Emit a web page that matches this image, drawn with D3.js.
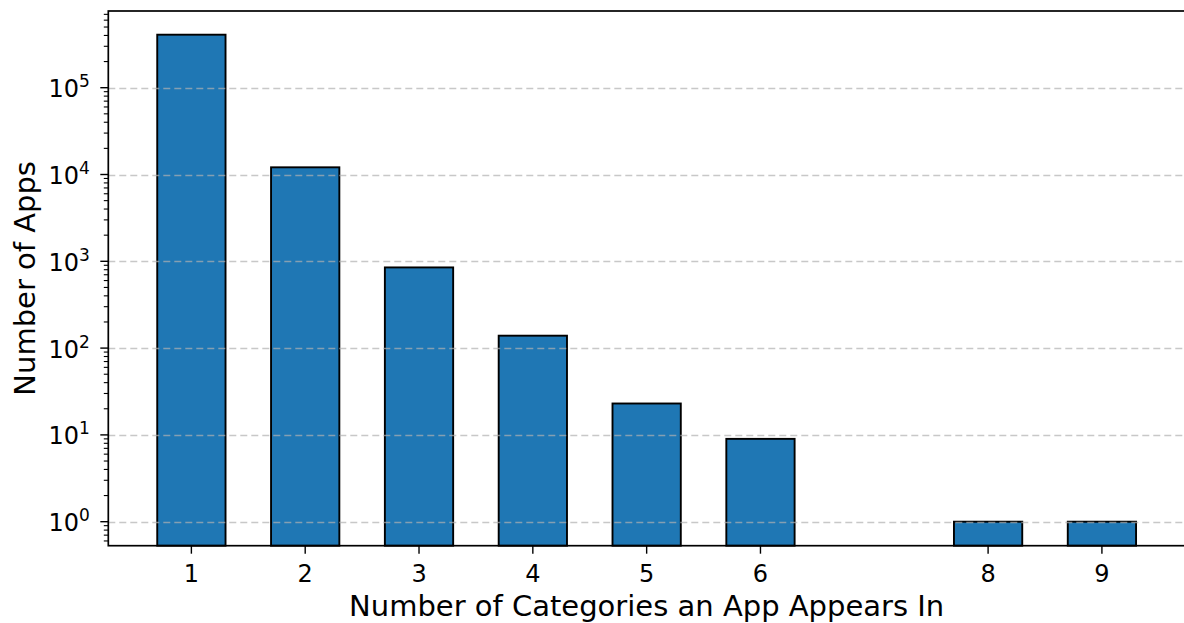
<!DOCTYPE html>
<html>
<head>
<meta charset="utf-8">
<script src="https://cdn.jsdelivr.net/npm/d3@7"></script>
<style>
  html, body { margin: 0; padding: 0; background: #fff; }
  svg { display: block; }
  text { font-family: "DejaVu Sans", sans-serif; fill: #000; }
</style>
</head>
<body>
<svg id="chart" width="1184" height="623"></svg>
<script>
// Number of categories each app is listed in, and how many apps fall in each bucket
const categories = [1, 2, 3, 4, 5, 6, 8, 9];
const appCounts = [408000, 12100, 850, 139, 23, 9, 1, 1];
const xTickValues = [1, 2, 3, 4, 5, 6, 8, 9];
const yTickExponents = [0, 1, 2, 3, 4, 5];

const xLabel = "Number of Categories an App Appears In";
const yLabel = "Number of Apps";

const svg = d3.select("#chart");
const plot = { left: 108.3, right: 1185, top: 11, bottom: 545.7 };

const barWidth = 0.6;
const x = d3.scaleLinear().domain([0.27, 9.73]).range([plot.left, plot.right]);
const y = d3.scaleLog().domain([0.529, 7.65e5]).range([plot.bottom, plot.top]);

const g = svg.append("g");

// Bars
g.selectAll("rect.bar")
  .data(categories.map((c, i) => ({ c, v: appCounts[i] })))
  .join("rect")
  .attr("class", "bar")
  .attr("x", d => x(d.c - barWidth / 2))
  .attr("width", d => x(d.c + barWidth / 2) - x(d.c - barWidth / 2))
  .attr("y", d => y(d.v))
  .attr("height", d => plot.bottom - y(d.v))
  .attr("fill", "#1f77b4")
  .attr("stroke", "#000")
  .attr("stroke-width", 1.9);

// Horizontal dashed grid at each decade, drawn over the bars
g.selectAll("line.grid")
  .data(yTickExponents)
  .join("line")
  .attr("class", "grid")
  .attr("x1", plot.left)
  .attr("x2", plot.right)
  .attr("y1", e => Math.round(y(Math.pow(10, e))) + 0.5)
  .attr("y2", e => Math.round(y(Math.pow(10, e))) + 0.5)
  .attr("stroke", "#b0b0b0")
  .attr("stroke-opacity", 0.7)
  .attr("stroke-width", 1.5)
  .attr("stroke-dasharray", "7,4");

// Y axis: major ticks with power-of-ten labels, plus minor ticks
const yAxisG = svg.append("g");
const minorTicks = [];
for (let e = -1; e <= 5; e++) {
  for (let m = 2; m <= 9; m++) {
    const v = m * Math.pow(10, e);
    if (v >= y.domain()[0] && v <= y.domain()[1]) minorTicks.push(v);
  }
}
yAxisG.selectAll("line.minor")
  .data(minorTicks)
  .join("line")
  .attr("x1", plot.left - 4.5)
  .attr("x2", plot.left)
  .attr("y1", d => y(d))
  .attr("y2", d => y(d))
  .attr("stroke", "#000")
  .attr("stroke-width", 1.1);
yAxisG.selectAll("line.major")
  .data(yTickExponents)
  .join("line")
  .attr("x1", plot.left - 8)
  .attr("x2", plot.left)
  .attr("y1", e => y(Math.pow(10, e)))
  .attr("y2", e => y(Math.pow(10, e)))
  .attr("stroke", "#000")
  .attr("stroke-width", 1.4);
const yLabels = yAxisG.selectAll("text.ytick")
  .data(yTickExponents)
  .join("text")
  .attr("class", "ytick")
  .attr("x", plot.left - 18.5)
  .attr("y", e => y(Math.pow(10, e)) + 9.5)
  .attr("text-anchor", "end")
  .style("font-size", "24px");
yLabels.append("tspan").text("10");
yLabels.append("tspan")
  .attr("dy", -10)
  .style("font-size", "17px")
  .text(e => String(e));

// X axis ticks and labels
const xAxisG = svg.append("g");
xAxisG.selectAll("line.xtick")
  .data(xTickValues)
  .join("line")
  .attr("x1", d => x(d))
  .attr("x2", d => x(d))
  .attr("y1", plot.bottom)
  .attr("y2", plot.bottom + 8)
  .attr("stroke", "#000")
  .attr("stroke-width", 1.4);
xAxisG.selectAll("text.xtick")
  .data(xTickValues)
  .join("text")
  .attr("class", "xtick")
  .attr("x", d => x(d))
  .attr("y", 582)
  .attr("text-anchor", "middle")
  .style("font-size", "24px")
  .text(d => String(d));

// Spines
svg.append("rect")
  .attr("x", plot.left)
  .attr("y", plot.top)
  .attr("width", plot.right - plot.left)
  .attr("height", plot.bottom - plot.top)
  .attr("fill", "none")
  .attr("stroke", "#000")
  .attr("stroke-width", 1.7);

// Axis titles
svg.append("text")
  .attr("x", (plot.left + plot.right) / 2)
  .attr("y", 616)
  .attr("text-anchor", "middle")
  .style("font-size", "29px")
  .text(xLabel);
svg.append("text")
  .attr("transform", `translate(35, ${(plot.top + plot.bottom) / 2}) rotate(-90)`)
  .attr("text-anchor", "middle")
  .style("font-size", "29px")
  .text(yLabel);
</script>
</body>
</html>
